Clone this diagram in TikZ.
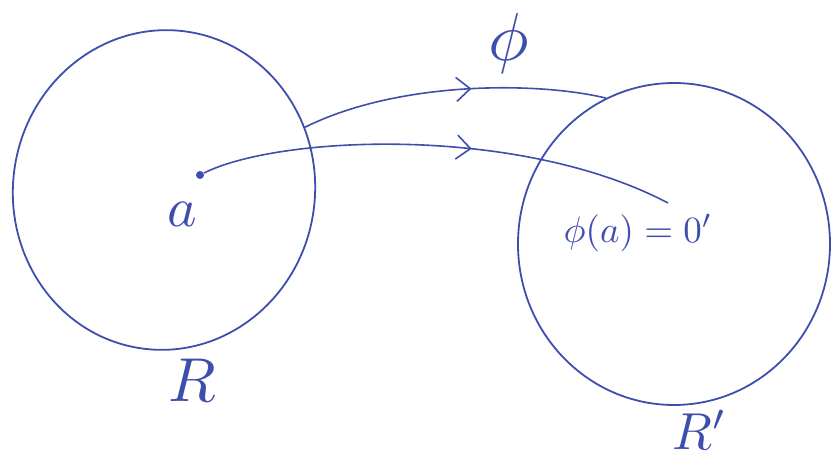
\documentclass[tikz,border=0pt]{standalone}
\usepackage{xcolor}
\usepackage{tikz}
\usetikzlibrary{shapes,arrows.meta,decorations.markings}

\definecolor{ink}{RGB}{62,78,172}

\begin{document}
\begin{tikzpicture}[
    x=0.5pt, y=-0.5pt,
    region/.style={ellipse, draw=ink, line width=0.9pt, inner sep=0pt},
    lbl/.style={text=ink, inner sep=0pt, transform shape, scale=#1},
    lbl/.default=2.8,
    maparrow/.style={draw=ink, line width=0.8pt, postaction={decorate},
        decoration={markings, mark=at position #1 with {\arrow[line width=0.8pt]{Straight Barb[length=7pt,width=12pt]}}}},
    maparrow/.default=0.55
]
    \useasboundingbox (0,0) rectangle (832,459);

    % Domain and codomain
    \node [region, minimum width=151pt, minimum height=160pt, rotate=-8] (dom) at (164,190) {};
    \node [region, minimum width=156pt, minimum height=161pt] (cod) at (674,244) {};

    % Points
    \node [circle, fill=ink, inner sep=0pt, minimum size=4pt] (pa) at (200,175) {};
    \coordinate (img) at (668,203);

    % Labels
    \node [lbl] (la) at (182,214) {$a$};
    \node [lbl=3.4] (phi) at (509,44) {$\phi$};
    \node [lbl=1.85] (limg) at (638,233) {$\phi(a)=0'$};
    \node [lbl=3.1] (lR) at (192,380) {$R$};
    \node [lbl=2.6] (lRp) at (700,430) {$R'$};

    % The map
    \path [maparrow=0.56] (dom.32) .. controls (400,80) and (540,82) .. (cod.115);
    \path [maparrow=0.57] (pa) .. controls (280,135) and (520,125) .. (img);
\end{tikzpicture}
\end{document}
